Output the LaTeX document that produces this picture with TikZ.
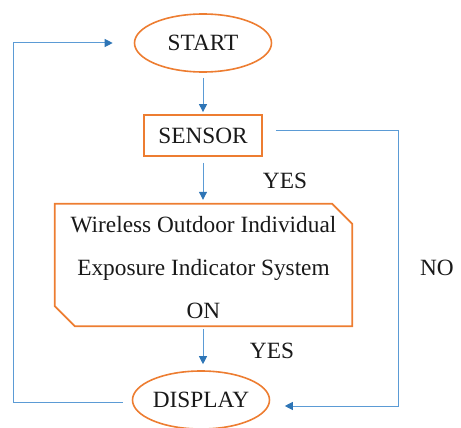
\documentclass[tikz,border=0pt]{standalone}
\usepackage{fontspec}
\setmainfont{Liberation Serif}
\usetikzlibrary{arrows.meta,shapes.geometric}
\definecolor{orng}{HTML}{ED7D31}
\definecolor{blu}{HTML}{5B9BD5}
\definecolor{bluh}{HTML}{2E75B6}
\begin{document}
\begin{tikzpicture}[x=1pt,y=-1pt,
  every node/.style={font=\fontsize{23.3}{27}\selectfont, text=black!90},
  term/.style={ellipse, draw=orng, line width=1.6pt, minimum width=137pt, minimum height=58pt, inner sep=0pt},
  proc/.style={rectangle, draw=orng, line width=1.8pt, minimum width=118pt, minimum height=41pt, inner sep=0pt},
  cutbox/.style={rectangle, minimum width=297pt, minimum height=122pt, inner sep=0pt},
  boxtext/.style={inner sep=0pt, align=center, font=\fontsize{23.3}{43}\selectfont},
  conn/.style={draw=blu, line width=1pt, -{Triangle[length=8pt,width=8pt,color=bluh]}},
  lbl/.style={inner sep=0pt}]
\useasboundingbox (0,0) rectangle (461,428);
\node[term] (start) at (203,43) {START};
\node[proc] (sensor) at (203,135.5) {SENSOR};
\node[cutbox] (box) at (203.5,265) {};
\node[boxtext] (boxtxt) at (203.5,267.5) {Wireless Outdoor Individual\\Exposure Indicator System\\ON};
\draw[orng, line width=1.8pt, line join=miter]
  (box.north west) -- ([xshift=-20pt]box.north east) -- ([yshift=-20pt]box.north east)
  -- (box.south east) -- ([xshift=20pt]box.south west) -- ([yshift=20pt]box.south west) -- cycle;
\node[term] (display) at (201,400) {DISPLAY};
\node[lbl] (yes1) at (285,181) {YES};
\node[lbl] (yes2) at (272,351) {YES};
\node[lbl] (no) at (437,268) {NO};
\draw[conn, shorten <=5pt, shorten >=2pt] (start.south) -- (sensor.north);
\draw[conn, shorten <=6pt, shorten >=4pt] (sensor.south) -- (sensor.south |- box.north);
\draw[conn, shorten <=3pt, shorten >=6pt] (sensor.south |- box.south) -- (sensor.south |- display.north);
\coordinate (lx) at (13,0);
\coordinate (rx) at (398,0);
\coordinate (d0) at ([xshift=-9pt,yshift=-2pt]display.west);
\coordinate (s0) at ([xshift=-21pt]start.west);
\draw[conn] (d0) -- (lx |- d0) -- (lx |- s0) -- (s0);
\coordinate (s1) at ([xshift=13pt,yshift=5pt]sensor.east);
\coordinate (d1) at ([xshift=14.5pt,yshift=-6pt]display.east);
\draw[conn] (s1) -- (rx |- s1) -- (rx |- d1) -- (d1);
\end{tikzpicture}
\end{document}
